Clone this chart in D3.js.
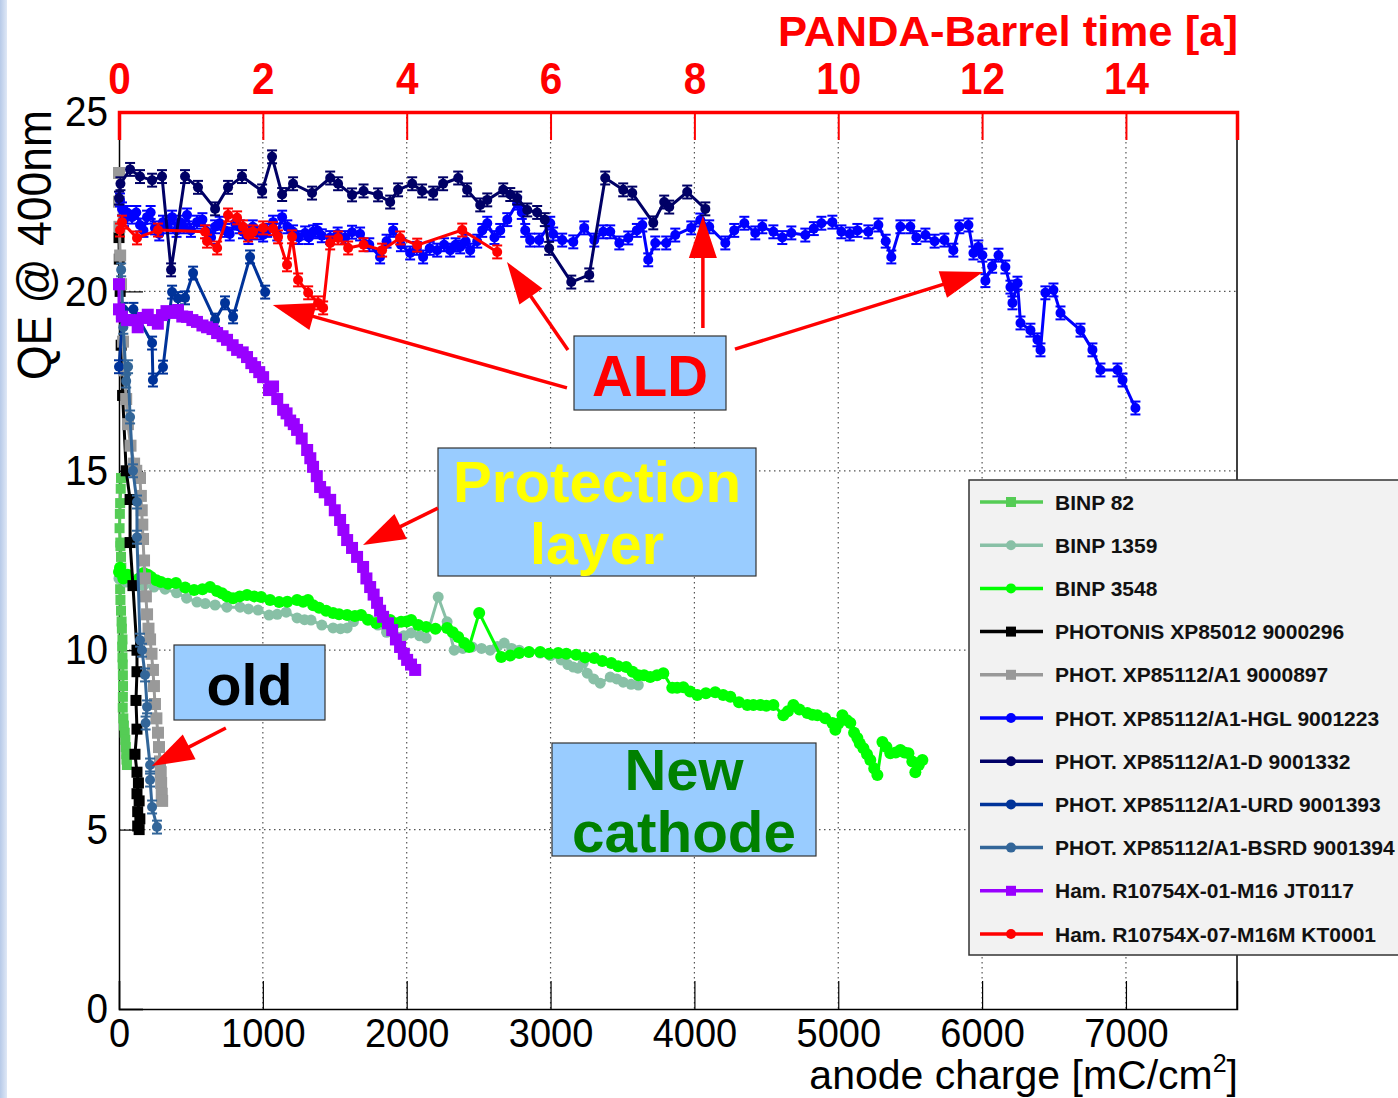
<!DOCTYPE html>
<html>
<head>
<meta charset="utf-8">
<script src="https://cdn.jsdelivr.net/npm/d3@7"></script>
<style>
  body { margin: 0; background: #fff; }
  svg { display: block; font-family: "Liberation Sans", Arial, Helvetica, sans-serif; }
</style>
</head>
<body>
<svg id="chart" width="1398" height="1098"></svg>
<script>
// ---- Quantum efficiency at 400 nm vs. integrated anode charge [mC/cm^2] ----

const binp82 = [[14,14.8],[12,14.5],[8,14.1],[6,13.8],[4,13.4],[9,13.0],[10,12.9],[14,12.6],[16,12.3],[12,12.0],[8,11.7],[10,11.4],[14,11.1],[18,10.8],[20,10.6],[24,10.3],[22,10.1],[24,9.8],[26,9.6],[27,9.3],[28,9.0],[27,8.7],[26,8.4],[30,8.1],[34,7.9],[40,7.7],[44,7.5],[47,7.3],[50,7.1],[52,6.95],[55,6.8]];

const binp1359 = [[0,12.0],[50,11.9],[100,11.85],[170,11.8],[243,11.76],[320,11.7],[400,11.6],[470,11.45],[542,11.34],[600,11.3],[668,11.26],[750,11.2],[842,11.2],[900,11.15],[967,11.12],[1043,10.98],[1100,11.0],[1162,11.06],[1238,10.9],[1290,10.85],[1335,10.84],[1410,10.7],[1488,10.62],[1540,10.6],[1586,10.62],[1630,10.8],[1683,10.98],[1740,10.85],[1800,10.7],[1860,10.5],[1933,10.37],[1980,10.4],[2031,10.48],[2090,10.4],[2135,10.34],[2219,11.48],[2281,10.79],[2330,10.0],[2390,10.05],[2455,10.09],[2520,10.05],[2580,10.0],[2630,10.1],[2678,10.2],[2730,10.05],[2782,10.0],[2850,9.95],[2928,9.92],[3000,9.85],[3074,9.73],[3120,9.6],[3158,9.53],[3190,9.5],[3227,9.64],[3255,9.36],[3300,9.2],[3345,9.08],[3415,9.25],[3460,9.2],[3505,9.11],[3560,9.05],[3610,9.03]];

const binp3548 = [[0,12.18],[7,12.3],[30,12.0],[60,12.1],[100,11.9],[140,12.0],[171,12.15],[200,12.1],[223,12.04],[260,11.95],[292,11.9],[340,11.85],[396,11.87],[460,11.75],[522,11.68],[580,11.7],[633,11.76],[680,11.65],[716,11.59],[750,11.5],[793,11.45],[840,11.5],[890,11.54],[940,11.5],[988,11.48],[1050,11.4],[1113,11.34],[1170,11.35],[1238,11.4],[1280,11.35],[1314,11.4],[1350,11.25],[1391,11.18],[1440,11.1],[1488,11.04],[1530,11.0],[1586,10.98],[1640,10.95],[1683,10.98],[1730,10.85],[1787,10.76],[1830,10.8],[1885,10.84],[1920,10.75],[1961,10.79],[2000,10.8],[2031,10.84],[2080,10.7],[2135,10.65],[2200,10.6],[2281,10.62],[2320,10.5],[2358,10.37],[2400,10.2],[2434,10.09],[2504,11.04],[2657,9.81],[2720,9.85],[2782,9.92],[2850,9.95],[2928,9.95],[2990,9.9],[3053,9.92],[3110,9.9],[3178,9.87],[3240,9.8],[3304,9.78],[3360,9.7],[3422,9.64],[3470,9.55],[3526,9.53],[3570,9.4],[3610,9.3],[3650,9.3],[3693,9.25],[3740,9.3],[3784,9.36],[3846,8.95],[3880,8.95],[3923,8.97],[3970,8.85],[4020,8.75],[4080,8.8],[4145,8.83],[4200,8.75],[4250,8.7],[4310,8.55],[4368,8.47],[4410,8.47],[4458,8.47],[4500,8.45],[4549,8.47],[4618,8.19],[4650,8.3],[4688,8.47],[4730,8.35],[4785,8.25],[4820,8.2],[4855,8.19],[4910,8.1],[4959,7.97],[4980,7.78],[5000,7.95],[5029,8.19],[5060,8.05],[5084,7.97],[5110,7.7],[5133,7.55],[5150,7.4],[5175,7.27],[5200,7.1],[5223,6.94],[5250,6.7],[5272,6.52],[5307,7.44],[5335,7.3],[5362,7.13],[5400,7.15],[5432,7.22],[5460,7.15],[5488,7.13],[5515,6.9],[5536,6.6],[5560,6.8],[5585,6.94]];

const photonis296 = [[0,21.5],[2,20.9],[8,20.0],[15,18.5],[25,17.1],[50,15.0],[77,14.2],[77,13.0],[97,11.8],[125,10.0],[125,9.4],[118,8.6],[125,7.8],[111,7.1],[125,6.6],[135,6.3],[125,6.0],[140,5.8],[130,5.5],[145,5.3],[130,5.1],[140,5.0]];

const phot897 = [[0,23.3],[0,22.5],[3,21.8],[8,21.0],[14,20.2],[20,19.4],[28,18.6],[38,17.8],[50,17.0],[62,16.3],[80,15.7],[105,15.2],[120,15.0],[146,14.8],[152,14.3],[158,13.9],[162,13.5],[167,13.1],[174,12.5],[180,12.0],[187,11.5],[195,11.0],[205,10.6],[216,10.3],[226,9.9],[236,9.45],[243,9.0],[250,8.5],[260,8.1],[271,7.7],[278,7.3],[285,6.9],[290,6.6],[293,6.3],[297,6.0],[300,5.8]];

const photHGL1223 = [[7,22.55],[21,22.3],[35,22.0],[56,22.2],[90,22.07],[120,22.2],[146,21.85],[170,21.7],[195,22.07],[220,22.2],[250,21.77],[280,21.6],[306,21.93],[340,21.8],[369,22.07],[400,21.7],[424,21.93],[450,21.8],[473,22.13],[500,21.7],[542,21.93],[580,22.0],[612,21.66],[640,21.5],[668,21.8],[700,21.9],[737,21.7],[770,21.6],[807,21.9],[840,21.8],[862,21.66],[900,21.5],[930,21.8],[960,21.63],[1002,21.57],[1030,21.7],[1071,21.93],[1100,21.6],[1134,22.07],[1170,21.8],[1210,21.66],[1250,21.5],[1294,21.63],[1320,21.5],[1349,21.66],[1380,21.7],[1410,21.55],[1468,21.5],[1520,21.6],[1572,21.5],[1620,21.65],[1676,21.6],[1740,21.3],[1815,20.96],[1860,21.4],[1906,21.7],[1960,21.3],[2024,21.07],[2070,21.2],[2114,20.96],[2160,21.2],[2212,21.15],[2260,21.3],[2302,21.15],[2340,21.3],[2372,21.24],[2410,21.4],[2441,21.15],[2490,21.4],[2525,21.7],[2560,21.9],[2610,21.5],[2650,21.7],[2699,22.0],[2768,22.46],[2800,22.2],[2824,21.7],[2858,21.43],[2921,21.43],[2998,21.9],[3018,21.6],[3081,21.43],[3158,21.38],[3234,21.77],[3304,21.43],[3366,21.66],[3415,21.66],[3478,21.35],[3540,21.49],[3600,21.7],[3638,21.85],[3679,20.88],[3728,21.35],[3804,21.35],[3867,21.57],[3978,21.77],[4041,21.99],[4103,21.8],[4215,21.35],[4277,21.7],[4347,21.9],[4423,21.63],[4472,21.8],[4549,21.66],[4611,21.5],[4674,21.63],[4771,21.57],[4830,21.75],[4883,21.9],[4959,21.93],[5022,21.66],[5080,21.6],[5133,21.7],[5209,21.66],[5279,21.85],[5330,21.4],[5369,20.96],[5432,21.8],[5501,21.8],[5543,21.5],[5606,21.57],[5670,21.4],[5738,21.43],[5800,21.15],[5842,21.8],[5905,21.85],[5940,21.07],[5974,21.24],[6002,21.01],[6023,20.3],[6070,20.7],[6114,21.01],[6162,20.68],[6197,20.12],[6211,19.68],[6246,20.23],[6267,19.12],[6336,18.92],[6385,18.65],[6406,18.37],[6440,19.96],[6496,20.04],[6545,19.4],[6684,18.92],[6767,18.37],[6823,17.81],[6941,17.81],[6976,17.53],[7066,16.75]];

const photD1332 = [[0,22.6],[10,23.0],[77,23.4],[146,23.2],[230,23.1],[299,23.2],[362,20.6],[459,23.2],[549,22.9],[668,22.3],[758,22.9],[855,23.2],[995,22.8],[1064,23.75],[1134,22.7],[1210,23.0],[1342,22.74],[1468,23.16],[1523,23.0],[1620,22.69],[1700,22.8],[1801,22.69],[1885,22.49],[1940,22.83],[2038,23.0],[2107,22.8],[2184,22.74],[2253,23.0],[2358,23.16],[2420,22.83],[2511,22.41],[2560,22.55],[2671,22.83],[2720,22.7],[2768,22.6],[2838,22.27],[2907,22.2],[2960,22.0],[2990,21.2],[3144,20.26],[3269,20.46],[3380,23.16],[3505,22.83],[3568,22.74],[3714,21.91],[3790,22.49],[3825,22.35],[3950,22.77],[4076,22.3]];

const photURD1393 = [[0,17.9],[30,19.5],[100,19.5],[230,18.56],[236,17.53],[306,17.89],[369,19.98],[410,19.8],[459,19.82],[515,20.51],[668,19.2],[737,19.68],[793,19.29],[911,20.96],[1016,19.98]];

const photBSRD1394 = [[15,20.6],[30,19.0],[50,17.5],[63,17.9],[77,16.5],[97,15.0],[125,14.13],[125,13.15],[146,10.28],[160,10.0],[181,9.31],[195,8.42],[185,7.97],[216,6.8],[216,6.38],[230,5.63],[264,5.07]];

const hamJT0117 = [[0,20.2],[0,19.5],[20,19.3],[56,19.2],[97,19.2],[130,19.0],[167,19.26],[200,19.35],[236,19.2],[270,19.1],[299,19.34],[330,19.45],[369,19.4],[410,19.48],[440,19.3],[473,19.29],[510,19.2],[542,19.15],[580,19.05],[612,19.0],[650,18.95],[682,18.84],[720,18.75],[751,18.65],[790,18.5],[821,18.37],[860,18.3],[890,18.17],[920,18.0],[946,17.89],[975,17.75],[1002,17.61],[1043,17.25],[1071,17.35],[1100,17.0],[1141,16.7],[1165,16.6],[1190,16.4],[1215,16.3],[1238,16.14],[1270,15.9],[1308,15.58],[1330,15.35],[1349,15.11],[1375,14.85],[1398,14.55],[1430,14.4],[1468,14.19],[1500,13.9],[1537,13.63],[1560,13.35],[1586,13.07],[1620,12.85],[1655,12.6],[1697,12.32],[1720,12.0],[1746,11.76],[1770,11.55],[1794,11.32],[1815,11.1],[1836,10.93],[1870,10.75],[1899,10.56],[1925,10.3],[1954,10.09],[1980,9.9],[2003,9.73],[2030,9.6],[2059,9.45]];

const hamKT0001 = [[7,21.71],[21,21.93],[125,21.49],[271,21.71],[598,21.66],[612,21.4],[682,21.21],[758,22.13],[821,22.05],[862,21.8],[897,21.57],[932,21.66],[1002,21.77],[1071,21.75],[1106,21.52],[1168,20.74],[1203,21.52],[1245,20.32],[1315,19.96],[1384,19.68],[1419,19.54],[1468,21.35],[1523,21.49],[1593,21.21],[1700,21.3],[1829,21.15],[1954,21.49],[2073,21.29],[2386,21.71],[2629,21.1]];

// series names as shown in the legend
const seriesNames = ["BINP 82","BINP 1359","BINP 3548","PHOTONIS XP85012 9000296","PHOT. XP85112/A1 9000897","PHOT. XP85112/A1-HGL 9001223","PHOT. XP85112/A1-D 9001332","PHOT. XP85112/A1-URD 9001393","PHOT. XP85112/A1-BSRD 9001394","Ham. R10754X-01-M16 JT0117","Ham. R10754X-07-M16M KT0001"];
const seriesData = [binp82, binp1359, binp3548, photonis296, phot897, photHGL1223, photD1332, photURD1393, photBSRD1394, hamJT0117, hamKT0001];

// axis ticks
const chargeMajorTicks = [0,1000,2000,3000,4000,5000,6000,7000];
const yearMajorTicks = [0,2,4,6,8,10,12,14];
const qeMajorTicks = [0,5,10,15,20,25];
const qeUncertainty = 0.18;      // typical QE measurement error shown as bars
const chargePerYear = 500;       // mC/cm^2 accumulated per PANDA-Barrel year

// ---- styles ----
const styles = [
  {color:"#55cc55", shape:"square", size:10, err:false},
  {color:"#88c0a6", shape:"circle", size:5.5, err:false},
  {color:"#00ff00", shape:"circle", size:6, err:false},
  {color:"#000000", shape:"square", size:11, err:false},
  {color:"#999999", shape:"square", size:12, err:false},
  {color:"#0000ff", shape:"circle", size:5, err:true},
  {color:"#000066", shape:"circle", size:5, err:true},
  {color:"#003399", shape:"circle", size:5, err:true},
  {color:"#336699", shape:"circle", size:5, err:true},
  {color:"#9900ff", shape:"square", size:12, err:false},
  {color:"#ff0000", shape:"circle", size:5, err:true}
];

const svg = d3.select("#chart");
const L = 119, R = 1237, T = 112, B = 1009;
const xMax = 7772;
const x = d3.scaleLinear().domain([0, xMax]).range([L, R]);
const xTop = d3.scaleLinear().domain([0, xMax / chargePerYear]).range([L, R]);
const y = d3.scaleLinear().domain([0, 25]).range([B, T]);

// page edge stripe
const defs = svg.append("defs");
const grad = defs.append("linearGradient").attr("id","edge").attr("x1","0").attr("x2","1");
grad.append("stop").attr("offset","0").attr("stop-color","#b7cae8");
grad.append("stop").attr("offset","1").attr("stop-color","#dfe8f6");
svg.append("rect").attr("x",0).attr("y",0).attr("width",7).attr("height",1098).attr("fill","url(#edge)");

// grid
const grid = svg.append("g").attr("stroke","#555").attr("stroke-width",1.2).attr("stroke-dasharray","1.5,3.5");
grid.selectAll("line.v").data(chargeMajorTicks.filter(d => d > 0)).join("line")
  .attr("x1", d => x(d)).attr("x2", d => x(d)).attr("y1", T).attr("y2", B);
grid.selectAll("line.h").data(qeMajorTicks.filter(d => d > 0 && d < 25)).join("line")
  .attr("x1", L).attr("x2", R).attr("y1", d => y(d)).attr("y2", d => y(d));

// frame right side
svg.append("line").attr("x1",R).attr("x2",R).attr("y1",T).attr("y2",B).attr("stroke","#000").attr("stroke-width",1.5);

// bottom axis
const gB = svg.append("g").attr("transform",`translate(0,${B})`);
gB.call(d3.axisBottom(x).tickValues(d3.range(0, xMax, 200)).tickSize(-14).tickFormat(""));
gB.call(d3.axisBottom(x).tickValues(chargeMajorTicks).tickSize(-28).tickPadding(10).tickFormat(d3.format("d")));
gB.selectAll("path.domain").attr("stroke","#000").attr("stroke-width",1.5);
gB.selectAll("line").attr("stroke","#000").attr("stroke-width",1.2);
gB.selectAll("text").attr("font-size",40).attr("fill","#000").attr("font-family","Liberation Sans, Arial, sans-serif")
  .attr("transform","scale(0.95,1)");

// left axis
const gL = svg.append("g").attr("transform",`translate(${L},0)`);
gL.call(d3.axisLeft(y).tickValues(d3.range(0, 26, 1)).tickSize(-12).tickFormat(""));
gL.call(d3.axisLeft(y).tickValues(qeMajorTicks).tickSize(-24).tickPadding(11).tickFormat(d3.format("d")));
gL.selectAll("path.domain").attr("stroke","#000").attr("stroke-width",1.5);
gL.selectAll("line").attr("stroke","#000").attr("stroke-width",1.2);
gL.selectAll("text").attr("font-size",43).attr("fill","#000").attr("font-family","Liberation Sans, Arial, sans-serif")
  .attr("x",0).attr("transform","translate(-11,0) scale(0.9,1)");

// top axis (years)
const gT = svg.append("g").attr("transform",`translate(0,${T})`);
gT.call(d3.axisTop(xTop).tickValues(d3.range(0, xMax / chargePerYear, 0.5)).tickSize(-14).tickFormat(""));
gT.call(d3.axisTop(xTop).tickValues(yearMajorTicks).tickSize(-28).tickPadding(18).tickFormat(d3.format("d")));
gT.selectAll("path.domain").attr("stroke","#ff0000").attr("stroke-width",3.5);
gT.selectAll("line").attr("stroke","#ff0000").attr("stroke-width",2);
gT.append("line").attr("x1",R).attr("x2",R).attr("y1",0).attr("y2",14).attr("stroke","#ff0000").attr("stroke-width",2);
gT.selectAll("text").attr("font-size",44).attr("font-weight","bold").attr("fill","#ff0000")
  .attr("font-family","Liberation Sans, Arial, sans-serif").attr("transform","scale(0.92,1)");

// axis titles
svg.append("text").attr("x",1238).attr("y",46).attr("text-anchor","end")
  .attr("font-size",42).attr("font-weight","bold").attr("fill","#ff0000")
  .attr("textLength",460).attr("lengthAdjust","spacingAndGlyphs")
  .text("PANDA-Barrel time [a]");

const xt = svg.append("text").attr("x",1238).attr("y",1089).attr("text-anchor","end")
  .attr("font-size",41).attr("fill","#000");
xt.append("tspan").text("anode charge [mC/cm");
xt.append("tspan").attr("font-size",25).attr("dy",-17).text("2");
xt.append("tspan").attr("dy",17).text("]");

svg.append("text").attr("transform","translate(51,245) rotate(-90)").attr("text-anchor","middle")
  .attr("font-size",48).attr("fill","#000")
  .attr("textLength",270).attr("lengthAdjust","spacingAndGlyphs")
  .text("QE @ 400nm");

// data series
const line = d3.line().x(d => x(d[0])).y(d => y(d[1]));
const plot = svg.append("g");
seriesData.forEach((data, i) => {
  const s = styles[i];
  const g = plot.append("g");
  g.append("path").datum(data).attr("d", line).attr("fill","none")
    .attr("stroke", s.color).attr("stroke-width", 3).attr("stroke-linejoin","round");
  if (s.err) {
    const eb = g.append("g").attr("stroke", s.color).attr("stroke-width", 2);
    data.forEach(d => {
      const cx = x(d[0]), y1 = y(d[1] + qeUncertainty), y2 = y(d[1] - qeUncertainty);
      eb.append("line").attr("x1",cx).attr("x2",cx).attr("y1",y1).attr("y2",y2);
      eb.append("line").attr("x1",cx-5).attr("x2",cx+5).attr("y1",y1).attr("y2",y1);
      eb.append("line").attr("x1",cx-5).attr("x2",cx+5).attr("y1",y2).attr("y2",y2);
    });
  }
  if (s.shape === "square") {
    g.selectAll("rect").data(data).join("rect")
      .attr("x", d => x(d[0]) - s.size/2).attr("y", d => y(d[1]) - s.size/2)
      .attr("width", s.size).attr("height", s.size).attr("fill", s.color);
  } else {
    g.selectAll("circle").data(data).join("circle")
      .attr("cx", d => x(d[0])).attr("cy", d => y(d[1])).attr("r", s.size).attr("fill", s.color);
  }
});

// legend
const lg = svg.append("g");
lg.append("rect").attr("x",969).attr("y",480).attr("width",460).attr("height",475)
  .attr("fill","#f2f2f2").attr("stroke","#333").attr("stroke-width",1.5);
seriesNames.forEach((name, i) => {
  const s = styles[i];
  const ly = 502 + i * 43.2;
  lg.append("line").attr("x1",980).attr("x2",1043).attr("y1",ly).attr("y2",ly)
    .attr("stroke", s.color).attr("stroke-width",3.5);
  if (s.shape === "square") {
    lg.append("rect").attr("x",1011 - 5).attr("y",ly - 5).attr("width",10).attr("height",10).attr("fill",s.color);
  } else {
    lg.append("circle").attr("cx",1011).attr("cy",ly).attr("r",5).attr("fill",s.color);
  }
  lg.append("text").attr("x",1055).attr("y",ly).attr("dy","0.36em")
    .attr("font-size",21).attr("font-weight","bold").attr("fill","#111").text(name);
});

// annotation boxes
const boxes = [
  {x:574, y:336, w:152, h:74, color:"#ff0000", lines:[{t:"ALD", y:396, len:116}]},
  {x:438, y:448, w:318, h:128, color:"#ffff00", lines:[{t:"Protection", y:502, len:288},{t:"layer", y:564, len:134}]},
  {x:174, y:645, w:151, h:75, color:"#000000", lines:[{t:"old", y:705, len:86}]},
  {x:552, y:743, w:264, h:113, color:"#008000", lines:[{t:"New", y:790, len:119},{t:"cathode", y:852, len:224}]}
];
const ann = svg.append("g");
boxes.forEach(b => {
  ann.append("rect").attr("x",b.x).attr("y",b.y).attr("width",b.w).attr("height",b.h)
    .attr("fill","#99ccff").attr("stroke","#333").attr("stroke-width",1.2);
  b.lines.forEach(l => {
    ann.append("text").attr("x", b.x + b.w/2).attr("y", l.y).attr("text-anchor","middle")
      .attr("font-size",58).attr("font-weight","bold").attr("fill",b.color)
      .attr("textLength", l.len).attr("lengthAdjust","spacingAndGlyphs").text(l.t);
  });
});

// arrows (start and tip in data coordinates)
const arrows = [
  {from:[3114,17.31], to:[1069,19.62]},
  {from:[3121,18.37], to:[2697,20.82]},
  {from:[4059,18.98], to:[4059,22.10]},
  {from:[4282,18.39], to:[6006,20.54]},
  {from:[2217,13.96], to:[1696,12.93]},
  {from:[743,7.83],   to:[228,6.77]}
];
arrows.forEach(a => {
  const x0 = x(a.from[0]), y0 = y(a.from[1]), x1 = x(a.to[0]), y1 = y(a.to[1]);
  const dx = x1 - x0, dy = y1 - y0, len = Math.hypot(dx, dy);
  const ux = dx / len, uy = dy / len, hl = 42, hw = 14;
  const bx = x1 - ux * hl, by = y1 - uy * hl;
  ann.append("line").attr("x1",x0).attr("y1",y0).attr("x2",bx + ux*2).attr("y2",by + uy*2)
    .attr("stroke","#ff0000").attr("stroke-width",3.5);
  ann.append("polygon")
    .attr("points", [[x1,y1],[bx - uy*hw, by + ux*hw],[bx + uy*hw, by - ux*hw]].map(p => p.join(",")).join(" "))
    .attr("fill","#ff0000");
});
</script>
</body>
</html>
